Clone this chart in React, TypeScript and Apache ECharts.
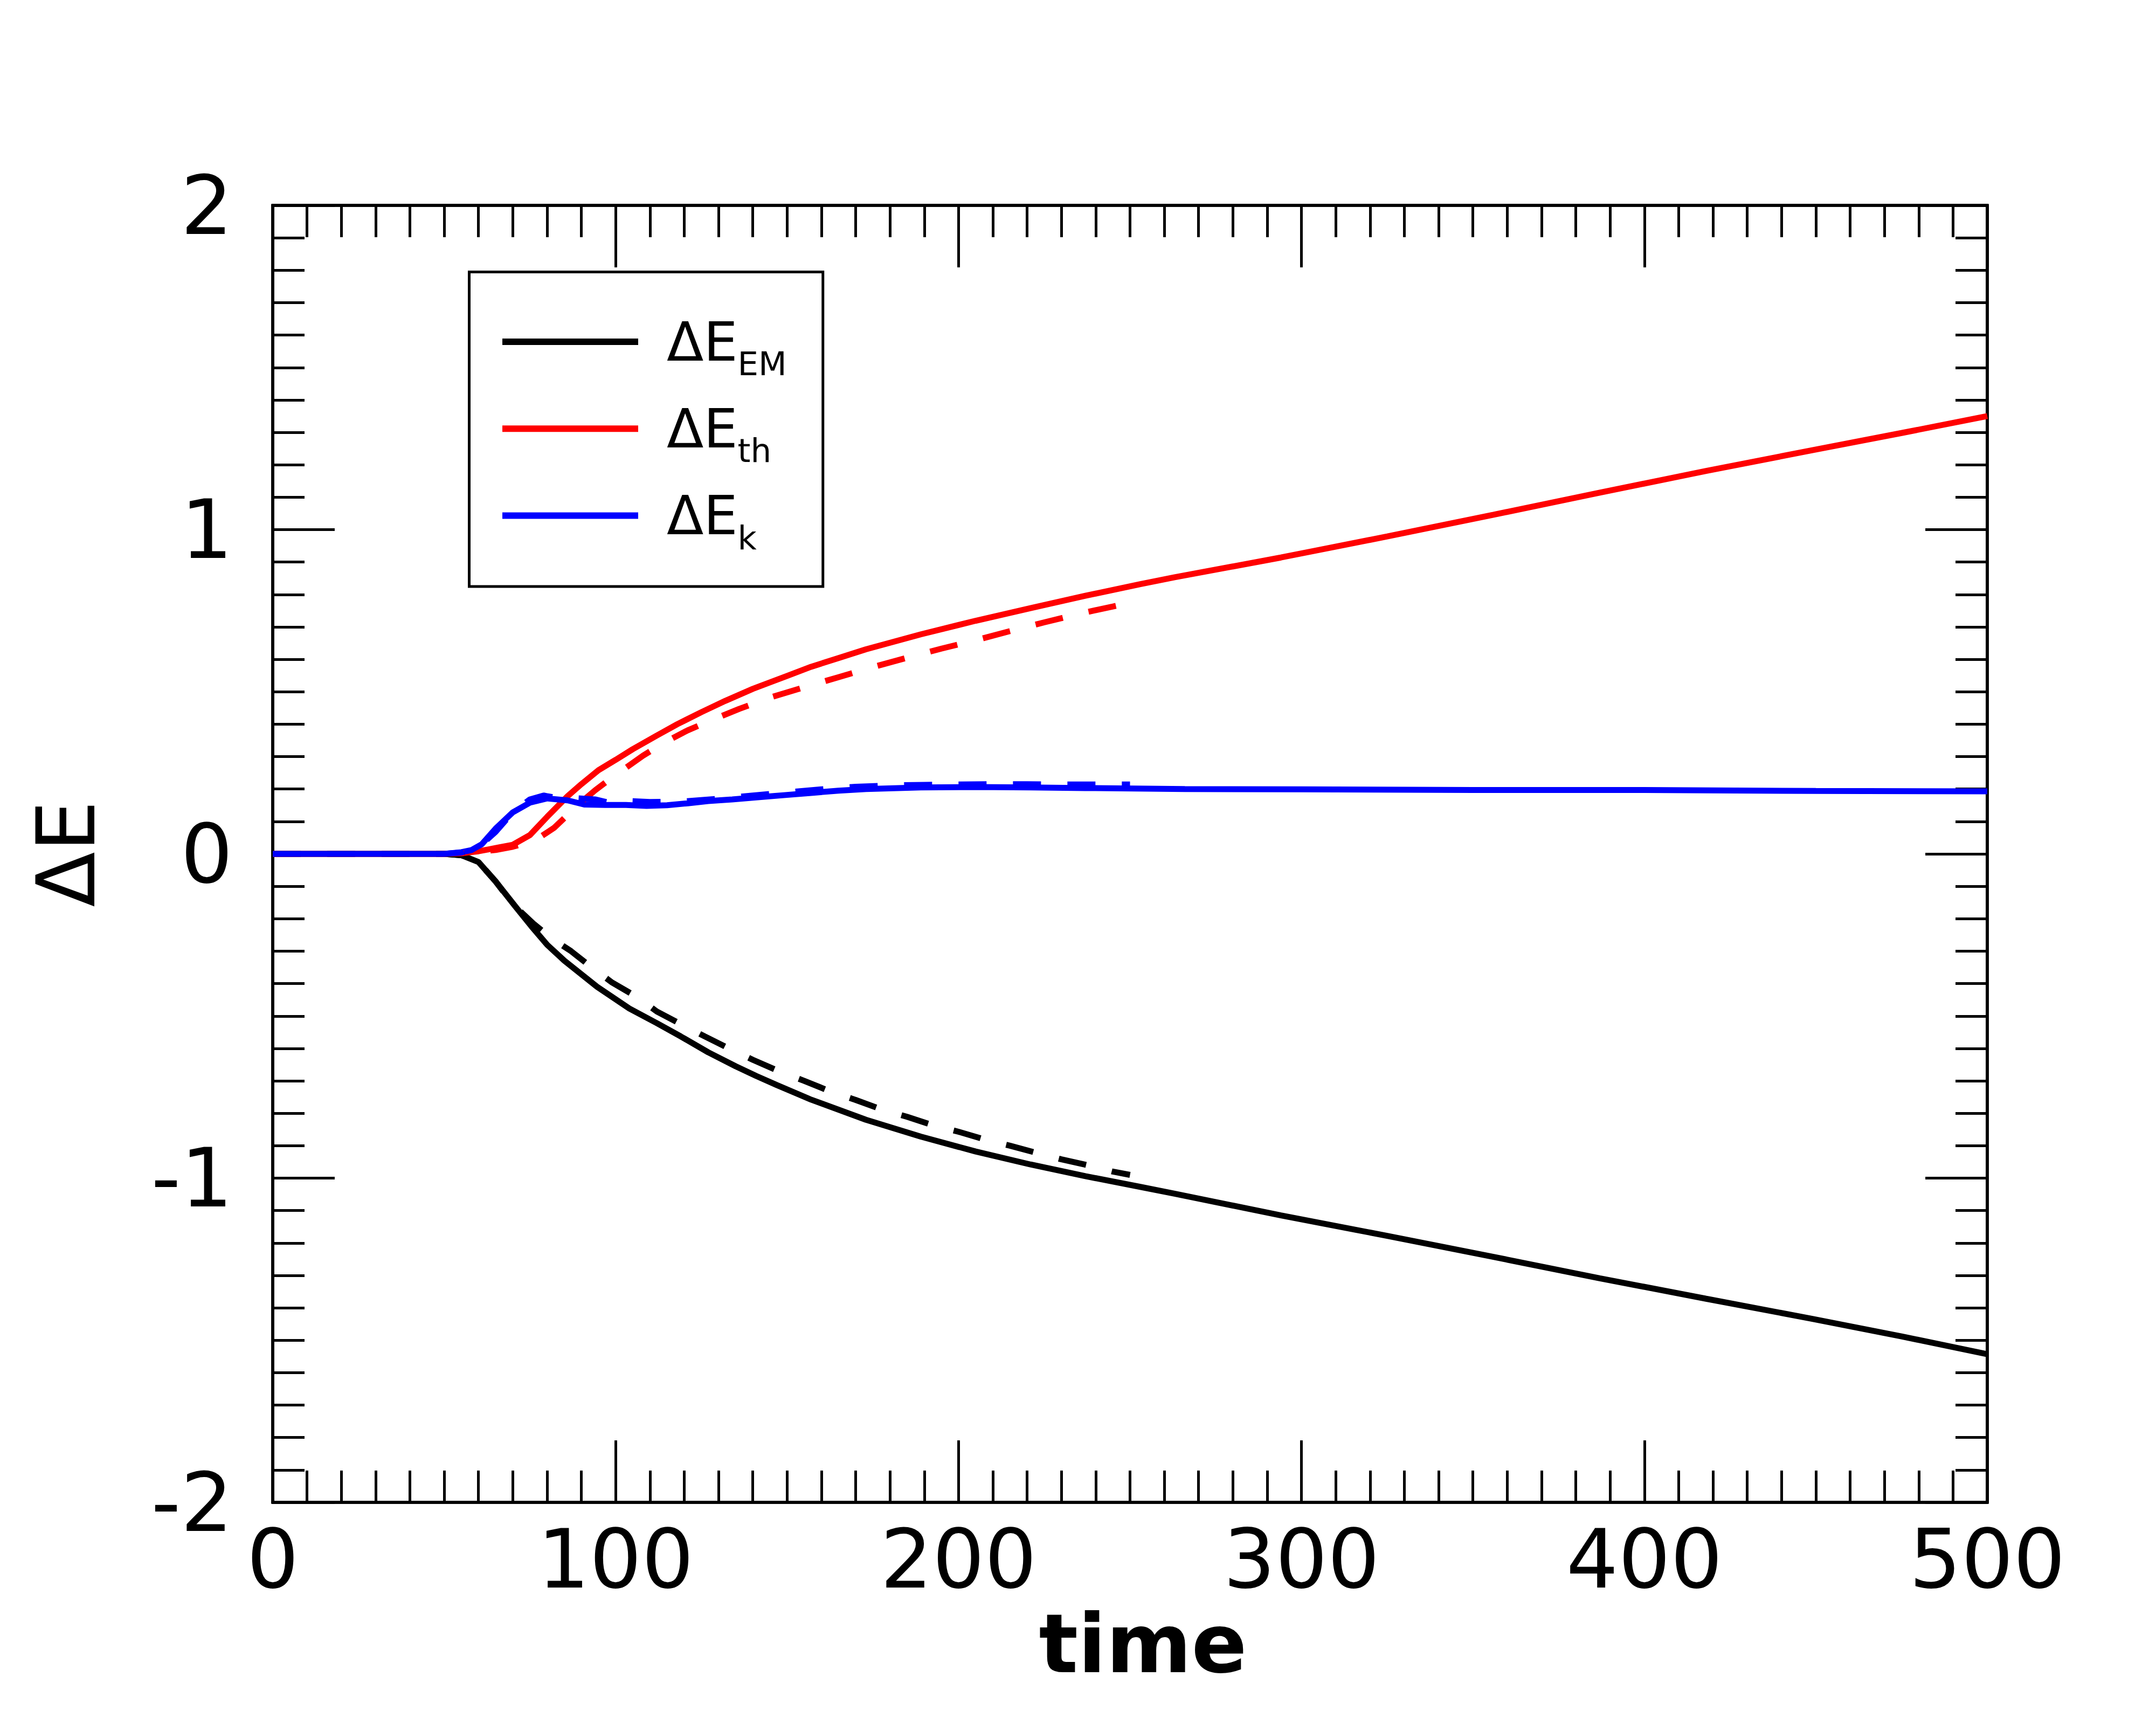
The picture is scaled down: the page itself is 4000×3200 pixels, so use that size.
import React, { useEffect, useRef } from "react";
import * as echarts from "echarts";

// ---- data ----
const tEM = [0, 10, 20, 30, 40, 50, 55, 60, 65, 70.6, 75.4, 80, 85, 94.6, 104, 112, 119, 127, 135, 141, 147, 157, 173, 189, 205, 221, 237, 253, 263, 294, 325, 356, 387, 418, 449, 475, 500];
const vEM = [0, 0, 0, 0, 0, 0, -0.004, -0.025, -0.085, -0.16, -0.223, -0.28, -0.329, -0.41, -0.477, -0.522, -0.563, -0.612, -0.655, -0.685, -0.713, -0.758, -0.82, -0.872, -0.918, -0.958, -0.994, -1.027, -1.048, -1.115, -1.178, -1.243, -1.309, -1.372, -1.434, -1.488, -1.543];

const tTH = [0, 10, 20, 30, 40, 50, 55, 60, 63, 66, 70, 75, 80, 86, 90, 95, 100, 105, 112, 118, 125, 132, 140, 150, 157, 165, 173, 189, 205, 221, 237, 253, 263, 294, 325, 356, 387, 418, 449, 475, 500];
const vTH = [0, 0, 0, 0, 0, 0, 0.002, 0.008, 0.014, 0.02, 0.028, 0.058, 0.114, 0.178, 0.215, 0.258, 0.29, 0.323, 0.365, 0.4, 0.437, 0.472, 0.509, 0.549, 0.577, 0.604, 0.631, 0.677, 0.719, 0.758, 0.796, 0.832, 0.853, 0.914, 0.979, 1.046, 1.114, 1.181, 1.245, 1.298, 1.35];

const tK = [0, 10, 20, 30, 40, 50, 55, 58, 61, 65, 70, 75, 80, 86, 91, 97, 103, 109, 115, 121, 127, 134, 141, 149, 157, 165, 173, 189, 205, 221, 237, 266, 300, 350, 400, 450, 500];
const vK = [0, 0, 0, 0, 0, 0, 0.005, 0.012, 0.03, 0.078, 0.128, 0.158, 0.171, 0.165, 0.152, 0.151, 0.151, 0.148, 0.15, 0.156, 0.163, 0.168, 0.174, 0.181, 0.188, 0.195, 0.2, 0.205, 0.206, 0.205, 0.203, 0.2, 0.199, 0.197, 0.197, 0.194, 0.193];

// dashed runs (end at t = 250)
const tEMd = [0, 10, 20, 30, 40, 50, 55, 60, 65, 70, 76, 81, 87, 93, 99, 106, 112, 119, 126, 133, 140, 148, 155, 162, 170, 177, 185, 192, 200, 207, 215, 222, 230, 238, 245, 250];
const vEMd = [0, 0, 0, 0, 0, 0, -0.004, -0.025, -0.085, -0.155, -0.215, -0.258, -0.3, -0.35, -0.397, -0.44, -0.486, -0.525, -0.563, -0.6, -0.635, -0.672, -0.7, -0.73, -0.759, -0.786, -0.811, -0.835, -0.857, -0.879, -0.9, -0.92, -0.942, -0.961, -0.98, -0.99];

const tTHd = [0, 10, 20, 30, 40, 50, 55, 60, 65, 70, 75, 78, 82, 86, 90, 94, 98, 102, 108, 114, 121, 129, 136, 145, 155, 165, 175, 185, 195, 205, 215, 225, 235, 245, 250];
const vTHd = [0, 0, 0, 0, 0, 0, 0.002, 0.006, 0.012, 0.022, 0.037, 0.052, 0.08, 0.12, 0.16, 0.196, 0.228, 0.258, 0.303, 0.342, 0.381, 0.417, 0.447, 0.482, 0.514, 0.545, 0.576, 0.605, 0.633, 0.659, 0.687, 0.714, 0.74, 0.763, 0.775];

const tKd = [0, 10, 20, 30, 40, 50, 55, 60, 65, 70, 75, 79, 83, 88, 94, 98, 104, 110, 120, 130, 140, 150, 160, 170, 180, 190, 200, 210, 220, 230, 240, 250];
const vKd = [0, 0, 0, 0, 0, 0, 0.004, 0.02, 0.068, 0.128, 0.168, 0.18, 0.172, 0.172, 0.168, 0.158, 0.163, 0.16, 0.162, 0.17, 0.18, 0.19, 0.199, 0.207, 0.211, 0.213, 0.214, 0.215, 0.215, 0.214, 0.214, 0.214];

const legendNames = ["ΔE_EM", "ΔE_th", "ΔE_k"];
const legendSubs = ["EM", "th", "k"];
const xTicks = { min: 0, max: 500, interval: 100 };
const yTicks = { min: -2, max: 2, interval: 1 };

const FONT = "DejaVu Sans";

function pairs(t: number[], v: number[]) {
  return t.map((x, i) => [x, v[i]]);
}

export default function App() {
  const ref = useRef<HTMLDivElement>(null);

  useEffect(() => {
    if (!ref.current) return;
    const chart = echarts.init(ref.current, null, { renderer: "svg" });

    const tickCommon = {
      axisLine: { show: true, onZero: false, lineStyle: { color: "#000", width: 5.5 } },
      axisTick: { show: true, inside: true, length: 115, lineStyle: { color: "#000", width: 5 } },
      minorTick: { show: true, splitNumber: 10, length: 59, lineStyle: { color: "#000", width: 5 } },
      splitLine: { show: false },
      minorSplitLine: { show: false },
    };

    const lineSeries = (name: string, data: number[][], color: string, dashed: boolean) => ({
      type: "line",
      name,
      data,
      showSymbol: false,
      symbol: "none",
      clip: true,
      lineStyle: { color, width: 11, type: dashed ? [52, 49] : "solid" },
      itemStyle: { color },
      emphasis: { disabled: true },
    });

    const option: any = {
      animation: false,
      backgroundColor: "#fff",
      textStyle: { fontFamily: FONT },
      grid: {
        show: true,
        left: 506,
        right: 313,
        top: 381,
        bottom: 413,
        borderColor: "#000",
        borderWidth: 5.5,
        backgroundColor: "transparent",
      },
      legend: {
        data: legendNames,
        orient: "vertical",
        left: 870.5,
        top: 504.5,
        padding: [79.5, 67, 60.5, 55.5],
        itemGap: 40.3,
        itemWidth: 252,
        itemHeight: 12,
        borderColor: "#000",
        borderWidth: 5,
        borderRadius: 0,
        backgroundColor: "#fff",
        selectedMode: false,
        lineStyle: { width: 12 },
        formatter: (name: string) => {
          const i = legendNames.indexOf(name);
          return "{a|ΔE}{b|" + legendSubs[i] + "}";
        },
        textStyle: {
          color: "#000",
          fontFamily: FONT,
          rich: {
            a: { fontSize: 100, lineHeight: 142, fontFamily: FONT, color: "#000", padding: [0, 0, 0, 48], verticalAlign: "middle" },
            b: { fontSize: 61, lineHeight: 61, fontFamily: FONT, color: "#000", verticalAlign: "bottom" },
          },
        },
      },
      xAxis: [
        {
          type: "value",
          position: "bottom",
          ...xTicks,
          ...tickCommon,
          name: "time",
          nameLocation: "middle",
          nameGap: 186,
          nameTextStyle: { fontFamily: FONT, fontSize: 152, fontWeight: "bold", color: "#000", padding: [0, 0, 0, 48] },
          axisLabel: { show: true, margin: 29, fontSize: 152, fontFamily: FONT, color: "#000" },
        },
        {
          type: "value",
          position: "top",
          ...xTicks,
          ...tickCommon,
          axisLabel: { show: false },
        },
      ],
      yAxis: [
        {
          type: "value",
          position: "left",
          ...yTicks,
          ...tickCommon,
          name: "ΔE",
          nameLocation: "middle",
          nameGap: 308,
          nameTextStyle: { fontFamily: FONT, fontSize: 150, color: "#000" },
          axisLabel: { show: true, margin: 74, fontSize: 152, fontFamily: FONT, color: "#000" },
        },
        {
          type: "value",
          position: "right",
          ...yTicks,
          ...tickCommon,
          axisLabel: { show: false },
        },
      ],
      series: [
        lineSeries("ΔE_EM", pairs(tEM, vEM), "#000000", false),
        lineSeries("ΔE_th", pairs(tTH, vTH), "#ff0000", false),
        lineSeries("ΔE_k", pairs(tK, vK), "#0000ff", false),
        lineSeries("ΔE_EM (dashed)", pairs(tEMd, vEMd), "#000000", true),
        lineSeries("ΔE_th (dashed)", pairs(tTHd, vTHd), "#ff0000", true),
        lineSeries("ΔE_k (dashed)", pairs(tKd, vKd), "#0000ff", true),
      ],
    };

    chart.setOption(option);
    return () => chart.dispose();
  }, []);

  return (
    <div
      ref={ref}
      style={{ position: "absolute", left: 0, top: 0, width: 4000, height: 3200, background: "#fff" }}
    />
  );
}
